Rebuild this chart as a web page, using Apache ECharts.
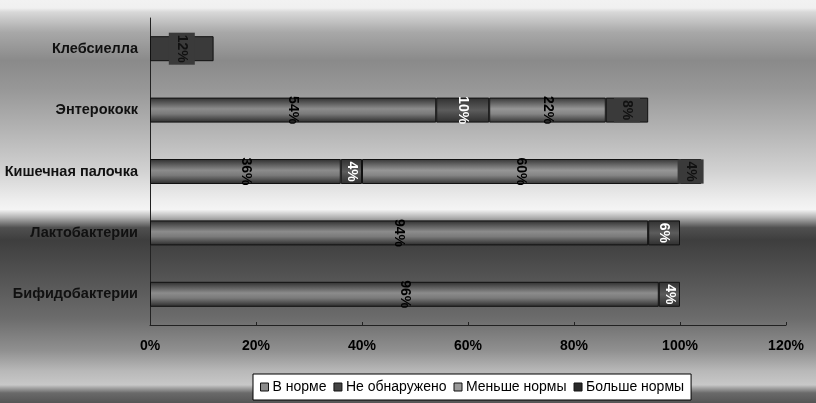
<!DOCTYPE html>
<html>
<head>
<meta charset="utf-8">
<script src="https://cdn.jsdelivr.net/npm/echarts@6/dist/echarts.min.js"></script>
<style>html,body{margin:0;padding:0;background:#fff}#c{width:816px;height:403px}</style>
</head>
<body>
<div id="c"></div>
<script>
const categories = ['Клебсиелла', 'Энтерококк', 'Кишечная палочка', 'Лактобактерии', 'Бифидобактерии'];
const seriesNames = ['В норме', 'Не обнаружено', 'Меньше нормы', 'Больше нормы'];
const vNorm   = [null, 54, 36, 94, 96];
const vNone   = [null, 10, 4, 6, 4];
const vLess   = [null, 22, 60, null, null];
const vMore   = [12, 8, 4, null, null];
const xTicks  = [0, 20, 40, 60, 80, 100, 120];

const FONT = 'Arial, "Liberation Sans", sans-serif';
const G = echarts.graphic.LinearGradient;
function vgrad(stops){ return new G(0,0,0,1, stops.map(s=>({offset:s[0], color:s[1]}))); }

const styles = [
  { color: vgrad([[0,'#2e2e2e'],[0.45,'#8c8c8c'],[0.65,'#7a7a7a'],[1,'#2a2a2a']]), legend:'#8a8a8a', label:'#000', bg:null },
  { color: vgrad([[0,'#303030'],[0.5,'#5c5c5c'],[1,'#2e2e2e']]), legend:'#444', label:'#fff', bg:null },
  { color: vgrad([[0,'#363636'],[0.45,'#969696'],[0.65,'#858585'],[1,'#333']]), legend:'#9a9a9a', label:'#000', bg:null },
  { color: '#3a3a3a', legend:'#2a2a2a', label:'#111', bg:'#3a3a3a' }
];
const values = [vNorm, vNone, vLess, vMore];

const series = seriesNames.map((name, i) => ({
  name, type: 'bar', stack: 'total', barWidth: 25,
  data: values[i],
  itemStyle: { color: styles[i].color, borderColor: '#111', borderWidth: 1 },
  label: {
    show: true, position: 'inside', rotate: -90,
    formatter: p => (p.value == null ? '' : p.value + '%'),
    fontFamily: FONT, fontSize: 14, fontWeight: 'bold', color: styles[i].label,
    backgroundColor: styles[i].bg || 'transparent',
    padding: styles[i].bg ? [6, 2] : 0
  }
}));

const bg = vgrad([
  [0,'#f2f2f2'],[0.02,'#f0f0f0'],[0.03,'#d8d8d8'],[0.08,'#a8a8a8'],[0.15,'#8a8a8a'],
  [0.22,'#979797'],[0.32,'#b3b3b3'],[0.42,'#d0d0d0'],[0.5,'#efefef'],[0.52,'#f4f4f4'],
  [0.54,'#b0b0b0'],[0.565,'#505050'],[0.595,'#3e3e3e'],[0.69,'#545454'],[0.79,'#6c6c6c'],
  [0.87,'#909090'],[0.92,'#b8b8b8'],[0.955,'#c8c8c8'],[0.975,'#6a6a6a'],[1,'#555555']
]);

const chart = echarts.init(document.getElementById('c'));
chart.setOption({
  animation: false,
  graphic: { elements: [{ type:'rect', silent:true, z:-10, shape:{x:0,y:0,width:816,height:403}, style:{fill:bg} }] },
  grid: { left: 150, right: 30, top: 18, bottom: 78, containLabel: false },
  xAxis: {
    type: 'value', min: xTicks[0], max: xTicks[xTicks.length-1], interval: 20,
    axisLine: { show: true, lineStyle: { color: '#222', width: 1 } },
    axisTick: { show: true, inside: true, length: 3, lineStyle: { color: '#222' } },
    splitLine: { show: false },
    axisLabel: { formatter: '{value}%', fontFamily: FONT, fontSize: 14, fontWeight: 'bold', color: '#000', margin: 14 }
  },
  yAxis: {
    type: 'category', inverse: true, data: categories,
    axisLine: { show: true, lineStyle: { color: '#222', width: 1 } },
    axisTick: { show: false },
    axisLabel: { fontFamily: FONT, fontSize: 14.5, fontWeight: 'bold', color: '#111', margin: 12 }
  },
  legend: {
    left: 253, top: 374, orient: 'horizontal',
    backgroundColor: '#fff', borderColor: '#000', borderWidth: 1, borderRadius: 0,
    padding: [6, 7], itemGap: 7, itemWidth: 8, itemHeight: 8, icon: 'rect',
    textStyle: { fontFamily: FONT, fontSize: 14, color: '#000', padding: [0,0,0,-1] },
    data: seriesNames.map((n, i) => ({ name: n, itemStyle: { color: styles[i].legend, borderColor: '#111', borderWidth: 1 } }))
  },
  series
});
</script>
</body>
</html>
